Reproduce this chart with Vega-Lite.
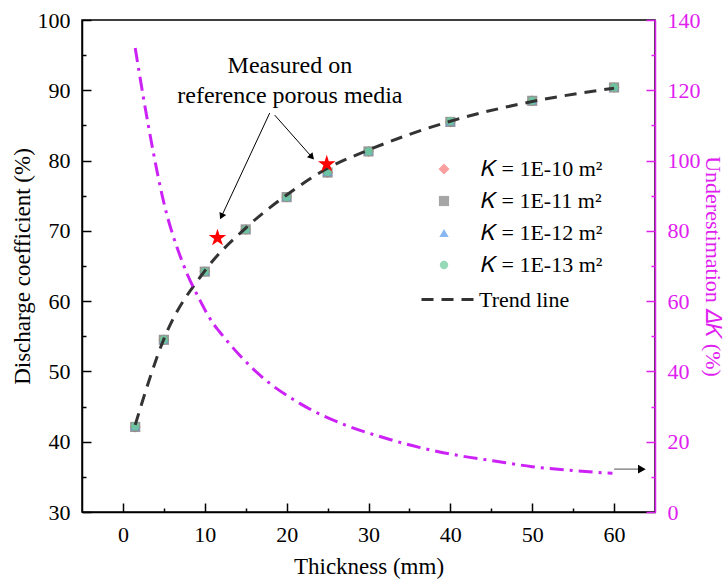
{
  "$schema": "https://vega.github.io/schema/vega-lite/v6.json",
  "width": 573,
  "height": 492,
  "autosize": {"type": "none"},
  "padding": {"left": 82, "top": 20, "right": 73, "bottom": 72},
  "background": "white",
  "config": {
    "view": {"stroke": "black", "strokeWidth": 1.5},
    "font": "Liberation Serif",
    "axis": {
      "grid": false,
      "labelFont": "Liberation Serif",
      "titleFont": "Liberation Serif",
      "labelFontSize": 22,
      "titleFontSize": 23,
      "titleFontWeight": "normal",
      "labelColor": "black",
      "titleColor": "black",
      "domainColor": "black",
      "tickColor": "black",
      "domainWidth": 1.5,
      "tickWidth": 1.5,
      "labelFlush": false,
      "labelOverlap": false
    },
    "legend": {
      "labelFont": "Liberation Serif",
      "labelFontSize": 22,
      "labelColor": "black",
      "padding": 0
    }
  },
  "resolve": {"scale": {"y": "independent"}, "axis": {"x": "independent"}},
  "layer": [
    {
      "data": {"values": [
        {"T": 1.5, "C": 42.1, "K": "𝐾 = 1E-10 m²"},
        {"T": 5, "C": 54.5, "K": "𝐾 = 1E-10 m²"},
        {"T": 10, "C": 64.2, "K": "𝐾 = 1E-10 m²"},
        {"T": 15, "C": 70.2, "K": "𝐾 = 1E-10 m²"},
        {"T": 20, "C": 74.8, "K": "𝐾 = 1E-10 m²"},
        {"T": 25, "C": 78.3, "K": "𝐾 = 1E-10 m²"},
        {"T": 30, "C": 81.3, "K": "𝐾 = 1E-10 m²"},
        {"T": 40, "C": 85.5, "K": "𝐾 = 1E-10 m²"},
        {"T": 50, "C": 88.5, "K": "𝐾 = 1E-10 m²"},
        {"T": 60, "C": 90.4, "K": "𝐾 = 1E-10 m²"},
        {"T": 1.5, "C": 42.1, "K": "𝐾 = 1E-11 m²"},
        {"T": 5, "C": 54.5, "K": "𝐾 = 1E-11 m²"},
        {"T": 10, "C": 64.2, "K": "𝐾 = 1E-11 m²"},
        {"T": 15, "C": 70.2, "K": "𝐾 = 1E-11 m²"},
        {"T": 20, "C": 74.8, "K": "𝐾 = 1E-11 m²"},
        {"T": 25, "C": 78.3, "K": "𝐾 = 1E-11 m²"},
        {"T": 30, "C": 81.3, "K": "𝐾 = 1E-11 m²"},
        {"T": 40, "C": 85.5, "K": "𝐾 = 1E-11 m²"},
        {"T": 50, "C": 88.5, "K": "𝐾 = 1E-11 m²"},
        {"T": 60, "C": 90.4, "K": "𝐾 = 1E-11 m²"},
        {"T": 1.5, "C": 42.2, "K": "𝐾 = 1E-12 m²"},
        {"T": 5, "C": 54.6, "K": "𝐾 = 1E-12 m²"},
        {"T": 10, "C": 64.3, "K": "𝐾 = 1E-12 m²"},
        {"T": 15, "C": 70.3, "K": "𝐾 = 1E-12 m²"},
        {"T": 20, "C": 74.9, "K": "𝐾 = 1E-12 m²"},
        {"T": 25, "C": 78.4, "K": "𝐾 = 1E-12 m²"},
        {"T": 30, "C": 81.4, "K": "𝐾 = 1E-12 m²"},
        {"T": 40, "C": 85.6, "K": "𝐾 = 1E-12 m²"},
        {"T": 50, "C": 88.6, "K": "𝐾 = 1E-12 m²"},
        {"T": 60, "C": 90.5, "K": "𝐾 = 1E-12 m²"},
        {"T": 1.5, "C": 42.2, "K": "𝐾 = 1E-13 m²"},
        {"T": 5, "C": 54.5, "K": "𝐾 = 1E-13 m²"},
        {"T": 10, "C": 64.2, "K": "𝐾 = 1E-13 m²"},
        {"T": 15, "C": 70.2, "K": "𝐾 = 1E-13 m²"},
        {"T": 20, "C": 74.8, "K": "𝐾 = 1E-13 m²"},
        {"T": 25, "C": 78.4, "K": "𝐾 = 1E-13 m²"},
        {"T": 30, "C": 81.3, "K": "𝐾 = 1E-13 m²"},
        {"T": 40, "C": 85.6, "K": "𝐾 = 1E-13 m²"},
        {"T": 50, "C": 88.5, "K": "𝐾 = 1E-13 m²"},
        {"T": 60, "C": 90.4, "K": "𝐾 = 1E-13 m²"}
      ]},
      "mark": {"type": "point", "filled": true, "opacity": 0.85},
      "encoding": {
        "x": {"field": "T", "type": "quantitative",
          "scale": {"domain": [-5, 65], "nice": false, "zero": false},
          "axis": {"orient": "bottom", "values": [0, 10, 20, 30, 40, 50, 60], "title": "Thickness (mm)",
            "tickSize": -9, "labelPadding": 21, "titlePadding": 10}},
        "y": {"field": "C", "type": "quantitative",
          "scale": {"domain": [30, 100], "nice": false, "zero": false},
          "axis": {"orient": "left", "values": [30, 40, 50, 60, 70, 80, 90, 100], "title": "Discharge coefficient (%)",
            "tickSize": -9, "labelPadding": 21, "titlePadding": 3}},
        "color": {"field": "K", "type": "nominal",
          "scale": {"domain": ["𝐾 = 1E-10 m²", "𝐾 = 1E-11 m²", "𝐾 = 1E-12 m²", "𝐾 = 1E-13 m²"],
            "range": ["#F77B7B", "#858585", "#5B9BEE", "#6FCB9B"]},
          "legend": {"orient": "none", "legendX": 351, "legendY": 138, "title": null,
            "symbolSize": 130, "labelOffset": 26, "rowPadding": 10, "symbolOpacity": 1}},
        "shape": {"field": "K", "type": "nominal",
          "scale": {"domain": ["𝐾 = 1E-10 m²", "𝐾 = 1E-11 m²", "𝐾 = 1E-12 m²", "𝐾 = 1E-13 m²"],
            "range": ["diamond", "square", "triangle-up", "circle"]}},
        "size": {"field": "K", "type": "nominal",
          "scale": {"domain": ["𝐾 = 1E-10 m²", "𝐾 = 1E-11 m²", "𝐾 = 1E-12 m²", "𝐾 = 1E-13 m²"],
            "range": [120, 70, 105, 115]},
          "legend": null}
      }
    },
    {
      "data": {"values": [
        {"T": 1.5, "C": 42.4, "name": "Trend line"},
        {"T": 5, "C": 54.6, "name": "Trend line"},
        {"T": 10, "C": 64.3, "name": "Trend line"},
        {"T": 15, "C": 70.4, "name": "Trend line"},
        {"T": 20, "C": 75.1, "name": "Trend line"},
        {"T": 25, "C": 78.9, "name": "Trend line"},
        {"T": 30, "C": 81.5, "name": "Trend line"},
        {"T": 40, "C": 85.6, "name": "Trend line"},
        {"T": 50, "C": 88.4, "name": "Trend line"},
        {"T": 60, "C": 90.3, "name": "Trend line"}
      ]},
      "mark": {"type": "line", "color": "#333333", "strokeWidth": 3, "interpolate": "monotone"},
      "encoding": {
        "x": {"field": "T", "type": "quantitative", "axis": null},
        "y": {"field": "C", "type": "quantitative", "scale": {"domain": [30, 100], "nice": false, "zero": false}, "axis": null},
        "strokeDash": {"field": "name", "type": "nominal",
          "scale": {"domain": ["Trend line"], "range": [[12, 8]]},
          "legend": {"orient": "none", "legendX": 338, "legendY": 252, "title": null,
            "symbolSize": 2704, "symbolStrokeWidth": 3, "symbolStrokeColor": "#333333", "labelOffset": 4}}
      }
    },
    {
      "data": {"values": [
        {"T": 11.55, "C": 69.0},
        {"T": 24.9, "C": 79.5}
      ]},
      "mark": {"type": "point", "shape": "M0,-1L0.2245,-0.309L0.951,-0.309L0.363,0.118L0.588,0.809L0,0.382L-0.588,0.809L-0.363,0.118L-0.951,-0.309L-0.2245,-0.309Z", "filled": true, "color": "#FF0000", "size": 340, "opacity": 1},
      "encoding": {
        "x": {"field": "T", "type": "quantitative", "axis": null},
        "y": {"field": "C", "type": "quantitative", "scale": {"domain": [30, 100], "nice": false, "zero": false}, "axis": null}
      }
    },
    {
      "data": {"values": [
        {"T": 17.93, "C": 86.76, "T2": 12.04, "C2": 72.05},
        {"T": 18.54, "C": 86.47, "T2": 23.08, "C2": 80.5}
      ]},
      "mark": {"type": "rule", "color": "black", "strokeWidth": 1},
      "encoding": {
        "x": {"field": "T", "type": "quantitative", "axis": null},
        "y": {"field": "C", "type": "quantitative", "scale": {"domain": [30, 100], "nice": false, "zero": false}, "axis": null},
        "x2": {"field": "T2"},
        "y2": {"field": "C2"}
      }
    },
    {
      "data": {"values": [
        {"T": 60.0, "C": 36.1, "T2": 63.4, "C2": 36.1}
      ]},
      "mark": {"type": "rule", "color": "#8a8a8a", "strokeWidth": 1.5},
      "encoding": {
        "x": {"field": "T", "type": "quantitative", "axis": null},
        "y": {"field": "C", "type": "quantitative", "scale": {"domain": [30, 100], "nice": false, "zero": false}, "axis": null},
        "x2": {"field": "T2"},
        "y2": {"field": "C2"}
      }
    },
    {
      "data": {"values": [{"T": 12.04, "C": 72.05}]},
      "mark": {"type": "point", "shape": "triangle-up", "filled": true, "color": "black", "size": 55, "angle": 205, "opacity": 1},
      "encoding": {
        "x": {"field": "T", "type": "quantitative", "axis": null},
        "y": {"field": "C", "type": "quantitative", "scale": {"domain": [30, 100], "nice": false, "zero": false}, "axis": null}
      }
    },
    {
      "data": {"values": [{"T": 23.08, "C": 80.5}]},
      "mark": {"type": "point", "shape": "triangle-up", "filled": true, "color": "black", "size": 55, "angle": 138, "opacity": 1},
      "encoding": {
        "x": {"field": "T", "type": "quantitative", "axis": null},
        "y": {"field": "C", "type": "quantitative", "scale": {"domain": [30, 100], "nice": false, "zero": false}, "axis": null}
      }
    },
    {
      "data": {"values": [{"T": 63.4, "C": 36.1}]},
      "mark": {"type": "point", "shape": "triangle-up", "filled": true, "color": "black", "size": 80, "angle": 90, "opacity": 1},
      "encoding": {
        "x": {"field": "T", "type": "quantitative", "axis": null},
        "y": {"field": "C", "type": "quantitative", "scale": {"domain": [30, 100], "nice": false, "zero": false}, "axis": null}
      }
    },
    {
      "data": {"values": [
        {"T": 20.4, "C": 92.45, "label": "Measured on"},
        {"T": 20.4, "C": 88.2, "label": "reference porous media"}
      ]},
      "mark": {"type": "text", "fontSize": 24, "font": "Liberation Serif", "align": "center", "baseline": "alphabetic", "color": "black"},
      "encoding": {
        "x": {"field": "T", "type": "quantitative", "axis": null},
        "y": {"field": "C", "type": "quantitative", "scale": {"domain": [30, 100], "nice": false, "zero": false}, "axis": null},
        "text": {"field": "label"}
      }
    },
    {
      "data": {"values": [
        {"T": 1.5, "U": 132},
        {"T": 2.5, "U": 118},
        {"T": 3.7, "U": 102.5},
        {"T": 4.8, "U": 90},
        {"T": 7.4, "U": 70.3},
        {"T": 9.4, "U": 60.3},
        {"T": 11.0, "U": 53.7},
        {"T": 11.8, "U": 51.3},
        {"T": 16.7, "U": 39},
        {"T": 21.6, "U": 30.9},
        {"T": 27.1, "U": 24.8},
        {"T": 31.5, "U": 21.4},
        {"T": 36.2, "U": 18.4},
        {"T": 40.7, "U": 16.2},
        {"T": 45.4, "U": 14.5},
        {"T": 50, "U": 12.9},
        {"T": 54.9, "U": 11.8},
        {"T": 59.8, "U": 11.0}
      ]},
      "mark": {"type": "line", "color": "#CC22F5", "strokeWidth": 3, "strokeDash": [14, 6, 3, 6], "interpolate": "monotone"},
      "encoding": {
        "x": {"field": "T", "type": "quantitative", "axis": null},
        "y": {"field": "U", "type": "quantitative", "scale": {"domain": [0, 140], "nice": false, "zero": false},
          "axis": {"orient": "right", "values": [0, 20, 40, 60, 80, 100, 120, 140], "title": "Underestimation 𝛥𝐾 (%)",
            "tickSize": -9, "labelPadding": 21, "titlePadding": 0, "titleFontSize": 22,
            "domainColor": "#E020F0", "tickColor": "#E020F0", "labelColor": "#E020F0", "titleColor": "#E020F0"}}
      }
    },
    {
      "data": {"values": [{"T": 0, "C": 50}]},
      "mark": {"type": "point", "opacity": 0},
      "encoding": {
        "x": {"field": "T", "type": "quantitative",
          "axis": {"orient": "bottom", "values": [5, 15, 25, 35, 45, 55], "labels": false, "domain": false, "tickSize": -4, "title": null}},
        "y": {"field": "C", "type": "quantitative", "scale": {"domain": [30, 100], "nice": false, "zero": false},
          "axis": {"orient": "left", "values": [35, 45, 55, 65, 75, 85, 95], "labels": false, "domain": false, "tickSize": -4, "title": null}}
      }
    },
    {
      "data": {"values": [{"T": 0, "U": 50}]},
      "mark": {"type": "point", "opacity": 0},
      "encoding": {
        "x": {"field": "T", "type": "quantitative", "axis": null},
        "y": {"field": "U", "type": "quantitative", "scale": {"domain": [0, 140], "nice": false, "zero": false},
          "axis": {"orient": "right", "values": [10, 30, 50, 70, 90, 110, 130], "labels": false, "domain": false, "tickSize": -4, "title": null, "tickColor": "#E020F0"}}
      }
    }
  ]
}
